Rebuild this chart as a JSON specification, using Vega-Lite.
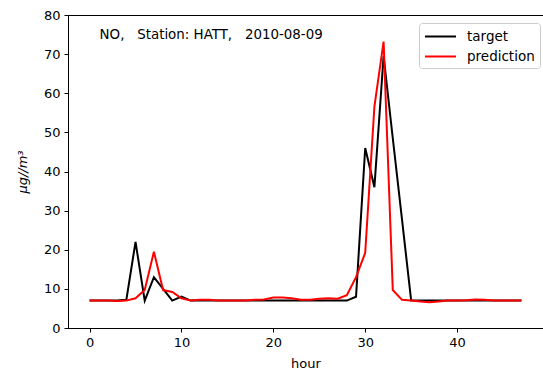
{
  "$schema": "https://vega.github.io/schema/vega-lite/v6.json",
  "width": 475,
  "height": 313,
  "autosize": "none",
  "padding": {"left": 68, "top": 15, "right": 0, "bottom": 42},
  "config": {
    "font": "DejaVu Sans",
    "view": {"stroke": "black", "strokeWidth": 1},
    "axis": {"labelFont": "DejaVu Sans", "titleFont": "DejaVu Sans", "labelFontSize": 13, "titleFontSize": 13, "labelColor": "black", "titleColor": "black", "domainColor": "black", "tickColor": "black", "grid": false, "tickSize": 4, "titleFontWeight": "normal", "labelOverlap": false, "labelPadding": 4}
  },
  "datasets": {
    "series": [
      {"hour":0,"series":"target","value":7},{"hour":1,"series":"target","value":7},{"hour":2,"series":"target","value":7},{"hour":3,"series":"target","value":7},{"hour":4,"series":"target","value":7.2},{"hour":5,"series":"target","value":22},{"hour":6,"series":"target","value":7},{"hour":7,"series":"target","value":13},{"hour":8,"series":"target","value":10},{"hour":9,"series":"target","value":7},{"hour":10,"series":"target","value":8},{"hour":11,"series":"target","value":7},{"hour":12,"series":"target","value":7},{"hour":13,"series":"target","value":7},{"hour":14,"series":"target","value":7},{"hour":15,"series":"target","value":7},{"hour":16,"series":"target","value":7},{"hour":17,"series":"target","value":7},{"hour":18,"series":"target","value":7},{"hour":19,"series":"target","value":7},{"hour":20,"series":"target","value":7},{"hour":21,"series":"target","value":7},{"hour":22,"series":"target","value":7},{"hour":23,"series":"target","value":7},{"hour":24,"series":"target","value":7},{"hour":25,"series":"target","value":7},{"hour":26,"series":"target","value":7},{"hour":27,"series":"target","value":7},{"hour":28,"series":"target","value":7},{"hour":29,"series":"target","value":8},{"hour":30,"series":"target","value":46},{"hour":31,"series":"target","value":36},{"hour":32,"series":"target","value":69.5},{"hour":33,"series":"target","value":48.5},{"hour":34,"series":"target","value":27.8},{"hour":35,"series":"target","value":7},{"hour":36,"series":"target","value":7},{"hour":37,"series":"target","value":7},{"hour":38,"series":"target","value":7},{"hour":39,"series":"target","value":7},{"hour":40,"series":"target","value":7},{"hour":41,"series":"target","value":7},{"hour":42,"series":"target","value":7},{"hour":43,"series":"target","value":7},{"hour":44,"series":"target","value":7},{"hour":45,"series":"target","value":7},{"hour":46,"series":"target","value":7},{"hour":47,"series":"target","value":7},
      {"hour":0,"series":"prediction","value":7},{"hour":1,"series":"prediction","value":7},{"hour":2,"series":"prediction","value":7},{"hour":3,"series":"prediction","value":6.9},{"hour":4,"series":"prediction","value":7},{"hour":5,"series":"prediction","value":7.6},{"hour":6,"series":"prediction","value":9.7},{"hour":7,"series":"prediction","value":19.5},{"hour":8,"series":"prediction","value":9.7},{"hour":9,"series":"prediction","value":9.2},{"hour":10,"series":"prediction","value":7.6},{"hour":11,"series":"prediction","value":7},{"hour":12,"series":"prediction","value":7.2},{"hour":13,"series":"prediction","value":7.2},{"hour":14,"series":"prediction","value":7},{"hour":15,"series":"prediction","value":7},{"hour":16,"series":"prediction","value":7},{"hour":17,"series":"prediction","value":7},{"hour":18,"series":"prediction","value":7.2},{"hour":19,"series":"prediction","value":7.3},{"hour":20,"series":"prediction","value":7.8},{"hour":21,"series":"prediction","value":7.8},{"hour":22,"series":"prediction","value":7.6},{"hour":23,"series":"prediction","value":7.2},{"hour":24,"series":"prediction","value":7.2},{"hour":25,"series":"prediction","value":7.5},{"hour":26,"series":"prediction","value":7.6},{"hour":27,"series":"prediction","value":7.5},{"hour":28,"series":"prediction","value":8.4},{"hour":29,"series":"prediction","value":13},{"hour":30,"series":"prediction","value":19.2},{"hour":31,"series":"prediction","value":56.6},{"hour":32,"series":"prediction","value":73.2},{"hour":33,"series":"prediction","value":9.7},{"hour":34,"series":"prediction","value":7.2},{"hour":35,"series":"prediction","value":7},{"hour":36,"series":"prediction","value":6.8},{"hour":37,"series":"prediction","value":6.6},{"hour":38,"series":"prediction","value":6.8},{"hour":39,"series":"prediction","value":7},{"hour":40,"series":"prediction","value":7},{"hour":41,"series":"prediction","value":7.1},{"hour":42,"series":"prediction","value":7.3},{"hour":43,"series":"prediction","value":7.2},{"hour":44,"series":"prediction","value":7},{"hour":45,"series":"prediction","value":7},{"hour":46,"series":"prediction","value":7},{"hour":47,"series":"prediction","value":7}
    ],
    "label": [{"hour": 1.09, "value": 74.9, "text": "NO,\u00a0\u00a0\u00a0Station: HATT,\u00a0\u00a0\u00a02010-08-09"}]
  },
  "encoding": {
    "x": {"field": "hour", "type": "quantitative", "scale": {"domain": [-2.35, 49.35], "nice": false, "zero": false}, "axis": {"values": [0, 10, 20, 30, 40], "title": "hour", "titlePadding": 8}},
    "y": {"field": "value", "type": "quantitative", "scale": {"domain": [0, 80], "nice": false}, "axis": {"values": [0, 10, 20, 30, 40, 50, 60, 70, 80], "title": "μg//m³", "titleFontStyle": "italic", "titlePadding": 14}}
  },
  "layer": [
    {
      "data": {"name": "series"},
      "mark": {"type": "line", "strokeWidth": 2, "clip": true},
      "encoding": {
        "color": {"field": "series", "type": "nominal", "sort": ["target", "prediction"], "scale": {"domain": ["target", "prediction"], "range": ["black", "#ff0000"]},
          "legend": {"title": null, "orient": "none", "legendX": 351, "legendY": 8, "padding": 5, "fillColor": "white", "strokeColor": "#cccccc", "cornerRadius": 3, "symbolType": "M-2.07,0H2.07", "symbolSize": 225, "symbolOffset": 8, "symbolStrokeWidth": 2, "labelFontSize": 13.5, "labelColor": "black", "rowPadding": 5, "labelOffset": 18}}
      }
    },
    {
      "data": {"name": "label"},
      "mark": {"type": "text", "align": "left", "baseline": "middle", "fontSize": 13.4, "color": "black"},
      "encoding": {
        "text": {"field": "text"}
      }
    }
  ]
}
